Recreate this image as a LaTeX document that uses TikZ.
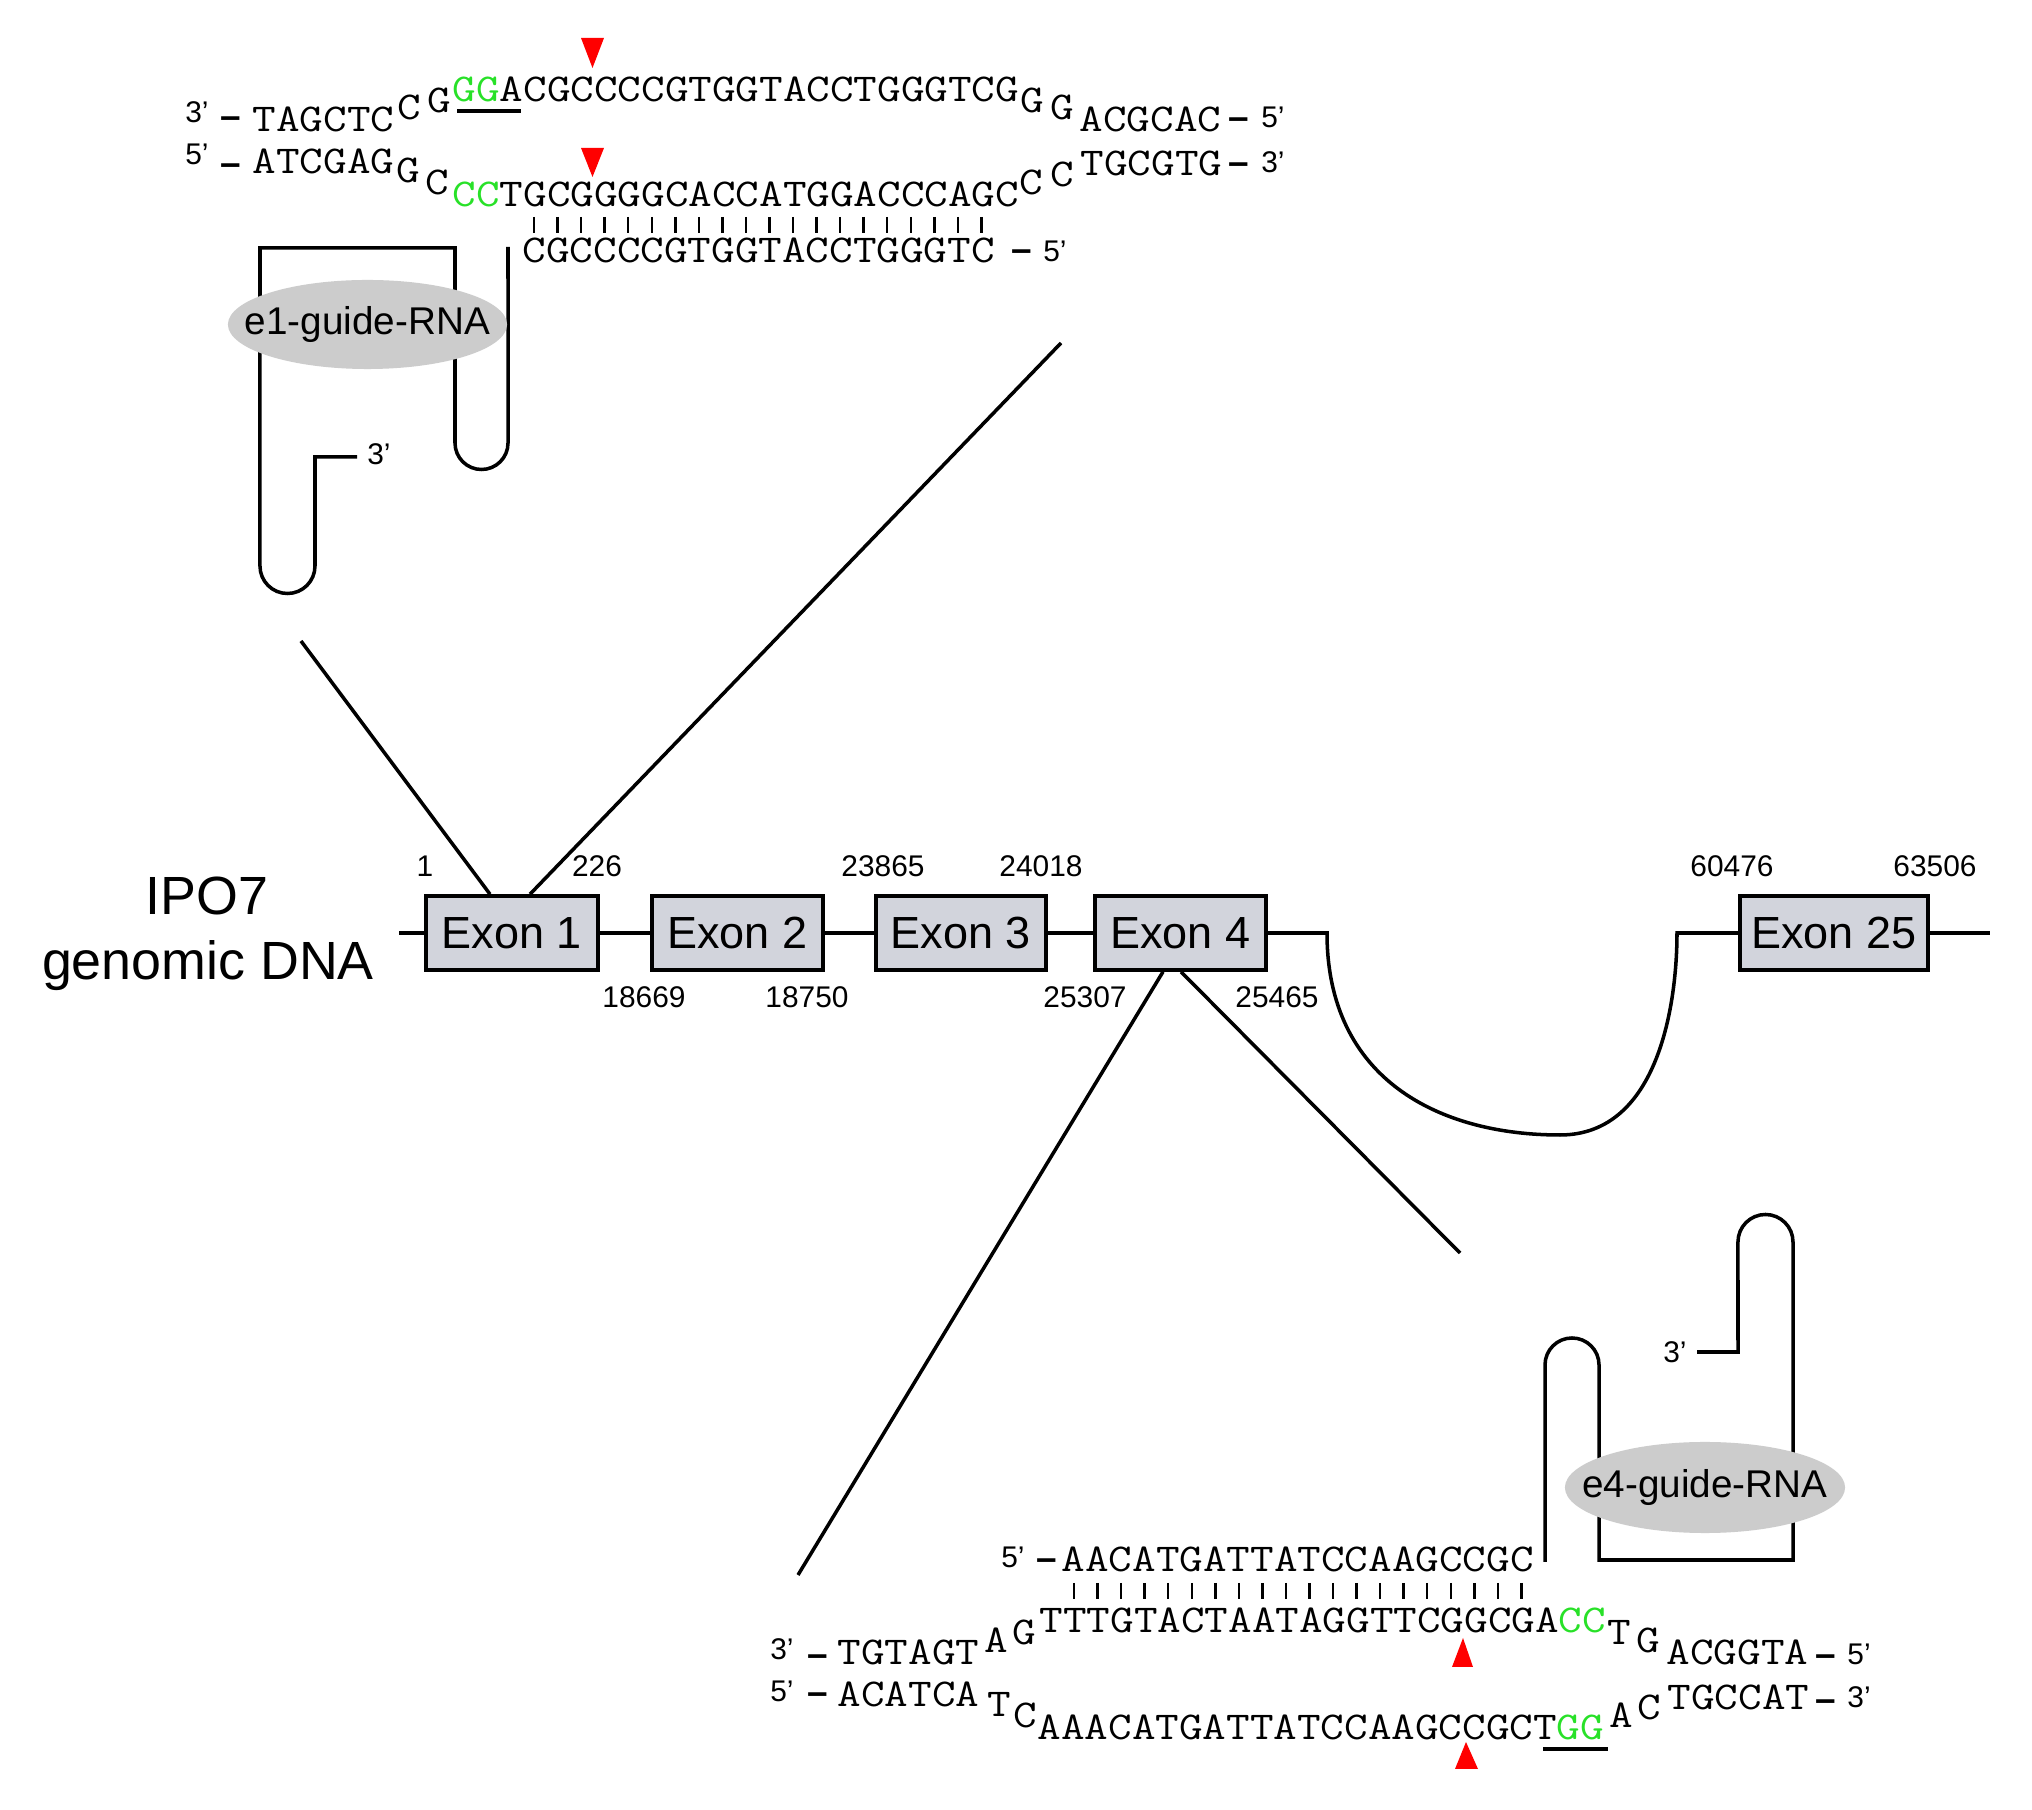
\documentclass[tikz,border=0pt]{standalone}
\usepackage{fontspec}
\setmainfont{Liberation Sans}
\usepackage{graphicx}
\usetikzlibrary{shapes.geometric}
\usetikzlibrary{calc}

\definecolor{exongray}{RGB}{210,212,220}
\definecolor{guidegray}{RGB}{204,204,204}
\definecolor{pamgreen}{RGB}{40,225,40}
\definecolor{cutred}{RGB}{255,0,0}

\newcommand{\nt}[1]{\scalebox{1}[0.86]{\fontsize{13.03}{15}\selectfont\ttfamily #1}}
\newcommand{\pam}[1]{\textcolor{pamgreen}{#1}}

\tikzset{
  strand/.style={line width=1pt},
  pairbar/.style={line width=0.7pt},
  pamline/.style={line width=0.9pt},
  seq/.style={inner sep=0pt, anchor=base west},
  nt/.style={inner sep=0pt, anchor=base},
  lbl/.style={inner sep=0pt, anchor=base, font=\fontsize{8.5}{10}\selectfont},
  dsh/.style={inner sep=0pt, anchor=base, font=\fontsize{10.5}{11}\selectfont\bfseries},
  num/.style={inner sep=0pt, anchor=base, font=\fontsize{8.5}{10}\selectfont},
  exon/.style={draw, line width=1pt, fill=exongray, inner sep=0pt,
    minimum height=0.74cm, font=\fontsize{12.8}{14}\selectfont},
  guide/.style={inner sep=0pt, font=\fontsize{11}{13}\selectfont}
}

\begin{document}
\begin{tikzpicture}[x=0.01cm,y=-0.01cm]
\path[fill=white,use as bounding box] (0,0) rectangle (2032,1810);

% gene
\node[inner sep=0pt, anchor=base, font=\fontsize{15.3}{18}\selectfont] (title1) at (207,915) {IPO7};
\node[inner sep=0pt, anchor=base, font=\fontsize{15.3}{18}\selectfont] (title2) at (208,980) {genomic DNA};

\node[exon, minimum width=1.72cm] (ex1) at (512,933) {Exon 1};
\node[exon, minimum width=1.71cm] (ex2) at (737.5,933) {Exon 2};
\node[exon, minimum width=1.70cm] (ex3) at (961,933) {Exon 3};
\node[exon, minimum width=1.71cm] (ex4) at (1180.5,933) {Exon 4};
\node[exon, minimum width=1.88cm] (ex25) at (1834,933) {Exon 25};

\coordinate (dnaL) at (399,933);
\coordinate (dnaR) at (1990,933);
\coordinate (loopL) at (1327,933);
\coordinate (loopR) at (1677,933);
\draw[strand] (dnaL) -- (ex1.west);
\draw[strand] (ex1.east) -- (ex2.west);
\draw[strand] (ex2.east) -- (ex3.west);
\draw[strand] (ex3.east) -- (ex4.west);
\draw[strand] (ex4.east) -- (loopL) .. controls (1327,1080) and (1440,1135) .. (1560,1135)
  .. controls (1660,1135) and (1677,1000) .. (loopR) -- (ex25.west);
\draw[strand] (ex25.east) -- (dnaR);

\node[num] (n1) at (425,877) {1};
\node[num] (n226) at (597,877) {226};
\node[num] (n23865) at (883,877) {23865};
\node[num] (n24018) at (1041,877) {24018};
\node[num] (n60476) at (1732,877) {60476};
\node[num] (n63506) at (1935,877) {63506};
\node[num] (n18669) at (644,1008) {18669};
\node[num] (n18750) at (807,1008) {18750};
\node[num] (n25307) at (1085,1008) {25307};
\node[num] (n25465) at (1277,1008) {25465};

% zoom lines
\coordinate (zoomA) at (301,641);
\coordinate (zoomB) at (1061,343);
\coordinate (zoomC) at (798,1575);
\coordinate (zoomD) at (1460,1253);
\draw[strand] (zoomA) -- ($(ex1.north)+(-22,0)$);
\draw[strand] (zoomB) -- ($(ex1.north)+(18,0)$);
\draw[strand] (zoomC) -- ($(ex4.south)+(-17.5,0)$);
\draw[strand] (zoomD) -- ($(ex4.south)+(0.5,0)$);

% exon 1 target
\node[lbl] (t3a) at (197,123) {3’};
\node[dsh] (tda) at (231,129) {–};
\node[seq] (tL1) at (252,132) {\nt{TAGCTC}};
\node[nt] (tC1) at (409,120) {\nt{C}};
\node[nt] (tG1) at (439,113) {\nt{G}};
\node[seq] (tM1) at (452,102) {\nt{\pam{GG}ACGCCCCGTGGTACCTGGGTCG}};
\node[nt] (tG2) at (1032,113) {\nt{G}};
\node[nt] (tG3) at (1062,120) {\nt{G}};
\node[seq] (tR1) at (1079,132) {\nt{ACGCAC}};
\node[dsh] (tdb) at (1239,130) {–};
\node[lbl] (t5a) at (1273,128) {5’};

\node[lbl] (t5b) at (197,165) {5’};
\node[dsh] (tdc) at (231,176) {–};
\node[seq] (tL2) at (252,174) {\nt{ATCGAG}};
\node[nt] (tG4) at (408,183) {\nt{G}};
\node[nt] (tC2) at (437,195) {\nt{C}};
\node[seq] (tM2) at (452,207) {\nt{\pam{CC}TGCGGGGCACCATGGACCCAGC}};
\node[nt] (tC3) at (1031,195) {\nt{C}};
\node[nt] (tC4) at (1062,187) {\nt{C}};
\node[seq] (tR2) at (1080,176) {\nt{TGCGTG}};
\node[dsh] (tdd) at (1239,175) {–};
\node[lbl] (t3b) at (1273,173) {3’};

\foreach \i in {0,...,19}
  \draw[pairbar] (534+23.55*\i,217) -- (534+23.55*\i,233);
\node[seq] (tgd) at (522,263) {\nt{CGCCCCGTGGTACCTGGGTC}};
\node[dsh] (tde) at (1022,262) {–};
\node[lbl] (t5c) at (1055,262) {5’};

\draw[pamline] (457,111) -- (521,111);
\fill[cutred] (581,38) -- (604,38) -- (592.5,68) -- cycle;
\fill[cutred] (581,148) -- (604,148) -- (592.5,177) -- cycle;

\draw[strand] (357,457) -- (315,457) -- (315,566) arc[start angle=0,end angle=-180,radius=0.275cm]
  -- (260,248) -- (455,248) -- (455,443) arc[start angle=180,end angle=360,radius=0.265cm] -- (508,247);
\fill[guidegray] (367.5,324.5) ellipse[x radius=1.395cm, y radius=0.445cm];
\node[guide] (g1) at (367.5,324.5) {e1-guide-RNA};
\node[lbl] (g1end) at (379,465) {3’};

% exon 4 target
\node[lbl] (b5a) at (1013,1568) {5’};
\node[dsh] (bda) at (1047,1571) {–};
\node[seq] (bgd) at (1061,1572) {\nt{AACATGATTATCCAAGCCGC}};
\foreach \i in {0,...,19}
  \draw[pairbar] (1074+23.55*\i,1583) -- (1074+23.55*\i,1599);

\node[lbl] (b3a) at (782,1660) {3’};
\node[dsh] (bdb) at (818,1667) {–};
\node[seq] (bL1) at (837,1665) {\nt{TGTAGT}};
\node[nt] (bA1) at (996,1653) {\nt{A}};
\node[nt] (bG1) at (1024,1645) {\nt{G}};
\node[seq] (bM1) at (1039,1633) {\nt{TTTGTACTAATAGGTTCGGCGA\pam{CC}}};
\node[nt] (bT1) at (1619,1645) {\nt{T}};
\node[nt] (bG2) at (1648,1653) {\nt{G}};
\node[seq] (bR1) at (1666,1665) {\nt{ACGGTA}};
\node[dsh] (bdc) at (1826,1667) {–};
\node[lbl] (b5b) at (1859,1665) {5’};

\node[lbl] (b5c) at (782,1702) {5’};
\node[dsh] (bdd) at (818,1705) {–};
\node[seq] (bL2) at (837,1707) {\nt{ACATCA}};
\node[nt] (bT2) at (999,1717) {\nt{T}};
\node[nt] (bC1) at (1025,1728) {\nt{C}};
\node[seq] (bM2) at (1037,1740) {\nt{AAACATGATTATCCAAGCCGCT\pam{GG}}};
\node[nt] (bA2) at (1621,1728) {\nt{A}};
\node[nt] (bC2) at (1649,1720) {\nt{C}};
\node[seq] (bR2) at (1667,1710) {\nt{TGCCAT}};
\node[dsh] (bde) at (1826,1712) {–};
\node[lbl] (b3b) at (1859,1708) {3’};

\draw[pamline] (1543,1749) -- (1608,1749);
\fill[cutred] (1452,1667) -- (1473,1667) -- (1463,1638) -- cycle;
\fill[cutred] (1455,1769) -- (1478,1769) -- (1466,1742) -- cycle;

\draw[strand] (1545,1562) -- (1545,1365) arc[start angle=180,end angle=0,radius=0.27cm]
  -- (1599,1560) -- (1793,1560) -- (1793,1242) arc[start angle=0,end angle=180,radius=0.275cm]
  -- (1738,1352) -- (1697,1352);
\fill[guidegray] (1705,1487.5) ellipse[x radius=1.4cm, y radius=0.455cm];
\node[guide] (g4) at (1705,1487.5) {e4-guide-RNA};
\node[lbl] (g4end) at (1675,1363) {3’};
\end{tikzpicture}
\end{document}
